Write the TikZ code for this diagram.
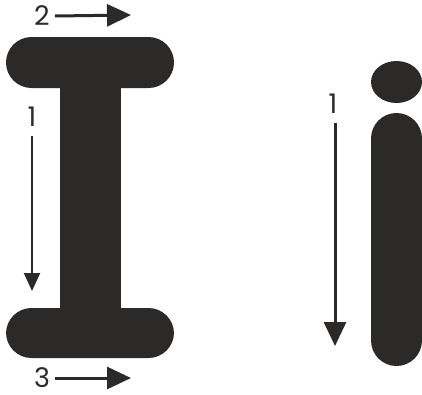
\documentclass[tikz,border=0pt]{standalone}
\usepackage{fontspec}
\setmainfont{Poppins}
\usetikzlibrary{arrows.meta}
\definecolor{glyphdark}{HTML}{2B2A29}

\begin{document}
\begin{tikzpicture}[x=1pt,y=-1pt,
  glyph/.style={fill=glyphdark,rounded corners=25.5pt},
  num/.style={font=\fontsize{27}{27}\selectfont,text=glyphdark,inner sep=0pt},
  bigstroke/.style={draw=glyphdark,line width=3pt,-{Triangle[length=24pt,width=22pt]}},
  thinstroke/.style={draw=glyphdark,line width=2pt,-{Triangle[length=18pt,width=16pt]}}]
\useasboundingbox (0,0) rectangle (422,394);
% capital I
\fill[glyph] (6,37) rectangle (174,88);
\fill[glyphdark] (60,80) rectangle (121,316);
\fill[glyph] (6,308) rectangle (174,358);
% small i
\fill[glyphdark] (396.5,82) ellipse [x radius=25.5pt,y radius=21pt];
\fill[glyph] (371,113) rectangle (422,366);
% stroke order numbers
\node[num] (two) at (42,16) {2};
\node[num] (three) at (42,378) {3};
\node[num] (oneI) at (32,117) {1};
\node[num] (onei) at (333,104) {1};
\coordinate (twoend) at (131,15);
\coordinate (threeend) at (131,378);
\coordinate (oneIend) at (32,291);
\coordinate (oneiend) at (335,346);
\draw[bigstroke] (two.east) ++(5,0) -- (twoend);
\draw[bigstroke] (three.east) ++(5,0) -- (threeend);
\draw[thinstroke] (oneI.south) ++(0,9) -- (oneIend);
\draw[bigstroke] (onei.south) ++(2,9) -- (oneiend);
\end{tikzpicture}
\end{document}
